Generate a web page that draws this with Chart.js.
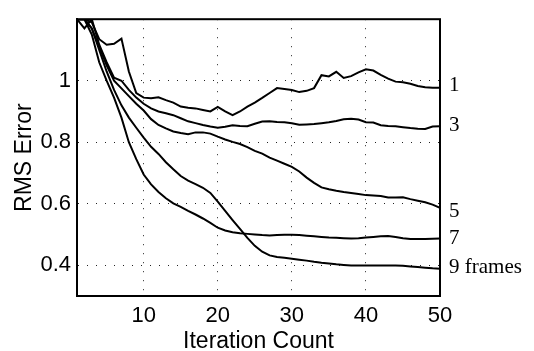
<!DOCTYPE html>
<html lang="en">
<head>
  <meta charset="UTF-8">
  <title>RMS Error vs Iteration Count</title>
  <script src="https://cdn.jsdelivr.net/npm/chart.js"></script>
  <style>
    body {
      margin: 0;
      padding: 0;
      background-color: #fff;
    }
    #chart-container {
      width: 534px;
      height: 351px;
    }
  </style>
</head>
<body>

<div id="chart-container">
  <canvas id="chart" width="534" height="351"></canvas>
</div>

<script>
  // x axis: iteration number
  const iterations = [1, 2, 3, 4, 5, 6, 7, 8, 9, 10, 11, 12, 13, 14, 15, 16, 17, 18, 19, 20,
    21, 22, 23, 24, 25, 26, 27, 28, 29, 30, 31, 32, 33, 34, 35, 36, 37, 38, 39, 40,
    41, 42, 43, 44, 45, 46, 47, 48, 49, 50];

  // RMS error per number of frames
  const frames1 = [1.2, 1.2, 1.19, 1.135, 1.117, 1.12, 1.137, 1.03, 0.96, 0.945,
    0.943, 0.946, 0.937, 0.929, 0.916, 0.912, 0.91, 0.905, 0.9, 0.915,
    0.9, 0.888, 0.9, 0.916, 0.929, 0.944, 0.96, 0.976, 0.973, 0.97,
    0.963, 0.967, 0.976, 1.018, 1.014, 1.029, 1.009, 1.015, 1.027, 1.037,
    1.033, 1.019, 1.007, 0.997, 0.995, 0.99, 0.983, 0.979, 0.977, 0.977];
  const frames3 = [1.2, 1.17, 1.2, 1.117, 1.06, 1.01, 1.0, 0.97, 0.945, 0.925,
    0.91, 0.9, 0.894, 0.888, 0.878, 0.868, 0.862, 0.856, 0.851, 0.847,
    0.85, 0.855, 0.853, 0.852, 0.86, 0.867, 0.868, 0.866, 0.865, 0.862,
    0.857, 0.858, 0.859, 0.862, 0.865, 0.869, 0.875, 0.876, 0.874, 0.865,
    0.864, 0.855, 0.853, 0.852, 0.849, 0.846, 0.844, 0.843, 0.851, 0.852];
  const frames5 = [1.2, 1.2, 1.17, 1.11, 1.05, 1.0, 0.975, 0.95, 0.925, 0.903,
    0.875, 0.856, 0.845, 0.835, 0.83, 0.826, 0.832, 0.832, 0.828, 0.818,
    0.809, 0.801, 0.794, 0.784, 0.772, 0.763, 0.75, 0.74, 0.73, 0.72,
    0.705, 0.685, 0.668, 0.653, 0.647, 0.642, 0.638, 0.635, 0.632, 0.628,
    0.627, 0.625, 0.62, 0.62, 0.621, 0.615, 0.61, 0.605, 0.597, 0.587];
  const frames7 = [1.2, 1.2, 1.15, 1.06, 1.0, 0.945, 0.88, 0.8, 0.745, 0.695,
    0.663, 0.638, 0.618, 0.601, 0.59, 0.577, 0.565, 0.552, 0.538, 0.522,
    0.513, 0.507, 0.504, 0.502, 0.5, 0.498, 0.497, 0.498, 0.499, 0.499,
    0.498, 0.496, 0.494, 0.492, 0.49, 0.489, 0.488, 0.487, 0.488, 0.49,
    0.492, 0.494, 0.495, 0.492, 0.488, 0.485, 0.485, 0.485, 0.486, 0.487];
  const frames9 = [1.2, 1.2, 1.17, 1.1, 1.03, 0.97, 0.92, 0.88, 0.847, 0.815,
    0.785, 0.762, 0.735, 0.712, 0.69, 0.675, 0.664, 0.652, 0.635, 0.607,
    0.577, 0.547, 0.518, 0.489, 0.463, 0.444, 0.432, 0.427, 0.424, 0.421,
    0.418, 0.415, 0.411, 0.408, 0.406, 0.403, 0.401, 0.399, 0.399, 0.399,
    0.399, 0.399, 0.399, 0.399, 0.398, 0.396, 0.394, 0.392, 0.39, 0.389];

  const seriesLabels = ['1', '3', '5', '7', '9 frames'];
  const labelValues = [0.984, 0.854, 0.575, 0.486, 0.394];
  const xTicks = [10, 20, 30, 40, 50];
  const yTicks = [0.4, 0.6, 0.8, 1];

  const allSeries = [frames1, frames3, frames5, frames7, frames9];
  const sansFont = "'Liberation Sans', Arial, sans-serif";

  // box round the plot area + curve labels on the right
  const boxAndLabels = {
    id: 'boxAndLabels',
    afterDatasetsDraw(chart) {
      const { ctx, chartArea, scales } = chart;
      ctx.save();
      ctx.strokeStyle = '#000';
      ctx.lineWidth = 2;
      ctx.strokeRect(chartArea.left, chartArea.top,
        chartArea.right - chartArea.left, chartArea.bottom - chartArea.top);

      ctx.fillStyle = '#000';
      ctx.font = "21px 'Liberation Serif', serif";
      ctx.textBaseline = 'middle';
      ctx.textAlign = 'left';
      seriesLabels.forEach((txt, i) => {
        const y = scales.y.getPixelForValue(labelValues[i]);
        ctx.fillText(txt, chartArea.right + 9, y);
      });
      ctx.restore();
    }
  };

  const datasets = allSeries.map((series, i) => ({
    label: seriesLabels[i],
    data: iterations.map((it, k) => ({ x: it, y: series[k] })),
    borderColor: '#000',
    borderWidth: 2,
    pointRadius: 0,
    tension: 0,
    fill: false
  }));

  new Chart(document.getElementById('chart'), {
    type: 'line',
    data: { datasets: datasets },
    options: {
      responsive: false,
      animation: false,
      layout: { padding: { top: 11, right: 94, left: 0, bottom: 0 } },
      plugins: {
        legend: { display: false },
        tooltip: { enabled: false }
      },
      scales: {
        x: {
          type: 'linear',
          min: 1,
          max: 50,
          afterBuildTicks: (scale) => { scale.ticks = xTicks.map(v => ({ value: v })); },
          afterFit: (scale) => { scale.height = 55; },
          grid: { color: '#222', lineWidth: 1, drawTicks: false },
          border: { display: true, color: '#000', width: 2, dash: [1, 8] },
          ticks: { color: '#000', padding: 7, maxRotation: 0, font: { family: sansFont, size: 22 } },
          title: {
            display: true,
            text: 'Iteration Count',
            color: '#000',
            padding: { top: 0, bottom: -4 },
            font: { family: sansFont, size: 23 }
          }
        },
        y: {
          min: 0.3,
          max: 1.2,
          afterBuildTicks: (scale) => { scale.ticks = yTicks.map(v => ({ value: v })); },
          afterFit: (scale) => { scale.width = 77; },
          grid: { color: '#222', lineWidth: 1, drawTicks: false },
          border: { display: true, color: '#000', width: 2, dash: [1, 8] },
          ticks: {
            color: '#000',
            padding: 6,
            font: { family: sansFont, size: 22 },
            callback: (v) => String(v)
          },
          title: {
            display: true,
            text: 'RMS Error',
            color: '#000',
            padding: { top: 11, bottom: 0 },
            font: { family: sansFont, size: 23 }
          }
        }
      }
    },
    plugins: [boxAndLabels]
  });
</script>

</body>
</html>
